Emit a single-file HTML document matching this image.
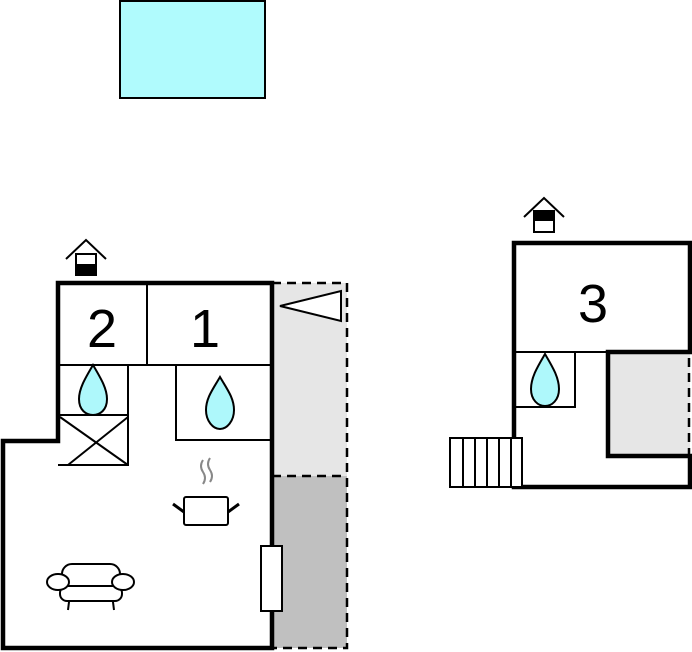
<!DOCTYPE html>
<html><head><style>body{margin:0;background:#fff}svg{display:block}</style></head><body>
<svg width="692" height="652" viewBox="0 0 692 652" xmlns="http://www.w3.org/2000/svg" font-family="Liberation Sans, sans-serif">
<rect x="120" y="1" width="145" height="97" fill="#b0fbfd" stroke="#000" stroke-width="2"/>
<rect x="273" y="283" width="74" height="193" fill="#e6e6e6"/>
<rect x="273" y="476" width="74" height="172" fill="#c0c0c0"/>
<path d="M272 283H347V648H272M272 476H347" fill="none" stroke="#000" stroke-width="2.5" stroke-dasharray="9,6"/>
<polygon points="280,306 341,291 341,321" fill="#fff" stroke="#000" stroke-width="2"/>
<g fill="none" stroke="#000" stroke-width="2">
<path d="M147 283V365M58 365H272M128 365V465H58M58 415H128M176 365V440H272"/>
<path d="M60 417L128 465M128 417L68 465"/>
</g>
<path d="M58 283H272V648H3V441H58Z" fill="none" stroke="#000" stroke-width="4.5"/>
<text x="102" y="347" font-size="54" text-anchor="middle">2</text>
<text x="205" y="347" font-size="54" text-anchor="middle">1</text>
<g fill="#aef8fb" stroke="#000" stroke-width="2">
<path d="M93 365C86 377 79 388 79 399C79 410 86 415 93 415C100 415 107 410 107 399C107 388 100 377 93 365Z"/>
<path d="M220 377C213 389 206 398 206 410C206 421 213 429 220 429C227 429 234 421 234 410C234 398 227 389 220 377Z"/>
<path d="M545 354C538 366 531 377 531 389C531 400 538 406 545 406C552 406 559 400 559 389C559 377 552 366 545 354Z"/>
</g>
<rect x="261" y="546" width="21" height="65" fill="#fff" stroke="#000" stroke-width="2"/>
<g stroke="#000" stroke-width="2" fill="#fff">
<path d="M203 460q-4 6 0 12q4 6 0 12M210 458q-4 6 0 12q4 6 0 12" stroke="#888" fill="none"/>
<rect x="184" y="497" width="44" height="28" rx="2"/>
<path d="M173 504L184 512M239 504L228 512" stroke-width="3"/>
</g>
<g stroke="#000" stroke-width="2" fill="#fff">
<rect x="62" y="564" width="58" height="30" rx="10"/>
<path d="M70 594L68 610M112 594L114 610"/>
<rect x="60" y="586" width="62" height="15" rx="7"/>
<ellipse cx="58" cy="582" rx="11" ry="8"/>
<ellipse cx="123" cy="582" rx="11" ry="8"/>
</g>
<g stroke="#000" stroke-width="2" fill="#fff">
<path d="M66 259L86 240L106 259" fill="none"/>
<rect x="76" y="254" width="20" height="21"/>
<rect x="76" y="265" width="20" height="10" fill="#000"/>
</g>
<g stroke="#000" stroke-width="2" fill="#fff">
<path d="M524 217L544 198L564 217" fill="none"/>
<rect x="534" y="211" width="20" height="21"/>
<rect x="534" y="211" width="20" height="9" fill="#000"/>
</g>
<rect x="608" y="352" width="82" height="104" fill="#e6e6e6"/>
<path d="M689 358V456" stroke="#000" stroke-width="2.5" stroke-dasharray="9,6"/>
<g fill="none" stroke="#000" stroke-width="2">
<path d="M514 352H608M575 352V407H514"/>
</g>
<path d="M692 352H608V456H692" fill="none" stroke="#000" stroke-width="4.5"/>
<path d="M692 243H514V487H692M690 243V352M690 456V487" fill="none" stroke="#000" stroke-width="4.5"/>
<text x="593" y="322" font-size="54" text-anchor="middle">3</text>
<g fill="#fff" stroke="#000" stroke-width="2">
<rect x="450" y="438" width="72" height="49"/>
<path d="M463 438V487M475 438V487M487 438V487M499 438V487M511 438V487" fill="none"/>
</g>
</svg>
</body></html>
